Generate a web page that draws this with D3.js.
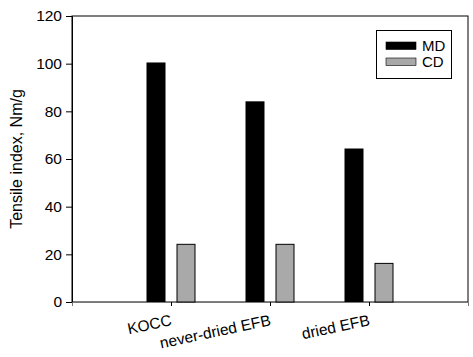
<!DOCTYPE html>
<html><head><meta charset="utf-8">
<script src="https://cdn.jsdelivr.net/npm/d3@7"></script>
<style>body{margin:0;background:#fff}svg{display:block}text{font-family:"Liberation Sans",Arial,sans-serif}</style>
</head><body>
<svg id="c" width="473" height="357"></svg>
<script>
const categories = ["KOCC", "never-dried EFB", "dried EFB"];
const mdValues = [100.5, 84.2, 64.4];
const cdValues = [24.2, 24.2, 16.2];
const yTicks = [0, 20, 40, 60, 80, 100, 120];
const seriesNames = ["MD", "CD"];
const seriesColors = ["#000000", "#a9a9a9"];

const svg = d3.select("#c");
const L = 72, R = 468, T = 16, B = 302;
const x = d3.scaleLinear().domain([0, 4]).range([L, R]);
const y = d3.scaleLinear().domain([0, 120]).range([B, T]);

// frame
svg.append("rect").attr("x", L).attr("y", T).attr("width", R - L).attr("height", B - T)
  .attr("fill", "none").attr("stroke", "#000").attr("stroke-width", 1);

// y axis
const ya = svg.append("g").attr("transform", `translate(${L},0)`)
  .call(d3.axisLeft(y).tickValues(yTicks).tickSize(6).tickPadding(4));
ya.select(".domain").attr("stroke", "#000");
ya.selectAll("text").attr("font-size", 15.5).attr("fill", "#000");

// x axis
const xa = svg.append("g").attr("transform", `translate(0,${B})`)
  .call(d3.axisBottom(x).tickValues([1, 2, 3]).tickSize(4).tickFormat(d => categories[d - 1]));
xa.select(".domain").attr("stroke", "#777");
xa.selectAll("text").attr("font-size", 15.5).attr("fill", "#000")
  .attr("text-anchor", "end").attr("dy", 0).attr("y", 0)
  .attr("transform", "translate(1,23) rotate(-12)");

const bw = 19, off = 15;
const data = categories.map((c, i) => ({ i: i + 1, md: mdValues[i], cd: cdValues[i] }));
svg.selectAll(".md").data(data).join("rect")
  .attr("x", d => x(d.i) - off - bw / 2).attr("width", bw)
  .attr("y", d => y(d.md)).attr("height", d => y(0) - y(d.md))
  .attr("fill", seriesColors[0]);
svg.selectAll(".cd").data(data).join("rect")
  .attr("x", d => x(d.i) + off - bw / 2 + 0.5).attr("width", bw - 1)
  .attr("y", d => y(d.cd)).attr("height", d => y(0) - y(d.cd))
  .attr("fill", seriesColors[1]).attr("stroke", "#000").attr("stroke-width", 1);

// y label
svg.append("text").attr("transform", `translate(22,${(T + B) / 2}) rotate(-90)`)
  .attr("text-anchor", "middle").attr("font-size", 16).text("Tensile index, Nm/g");

// legend
const lg = svg.append("g");
lg.append("rect").attr("x", 376.5).attr("y", 30.5).attr("width", 75).attr("height", 48)
  .attr("fill", "#fff").attr("stroke", "#000");
seriesNames.forEach((s, i) => {
  lg.append("rect").attr("x", 386).attr("y", 42 + i * 16).attr("width", 30).attr("height", 7.5)
    .attr("fill", seriesColors[i]).attr("stroke", "#000").attr("stroke-width", 0.6);
  lg.append("text").attr("x", 422).attr("y", 51 + i * 16).attr("font-size", 15).text(s);
});
</script>
</body></html>
